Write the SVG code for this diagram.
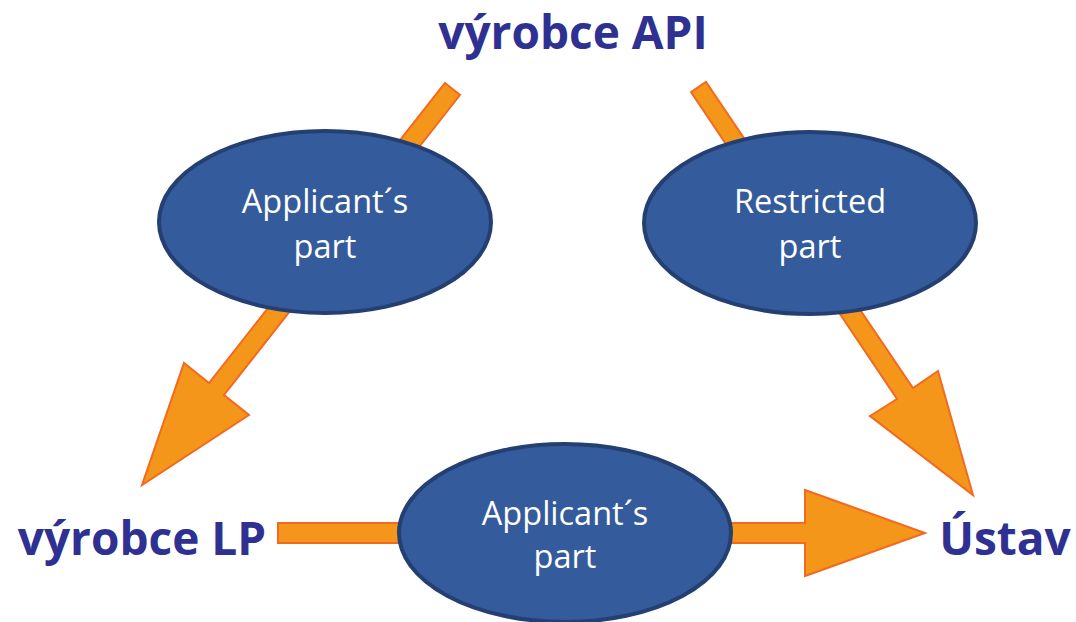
<svg xmlns="http://www.w3.org/2000/svg" width="1076" height="622" viewBox="0 0 1076 622">
<style>
.arrow{fill:#F39619;stroke:#F26A21;stroke-width:2;stroke-linejoin:miter}
.oval{fill:#345B9B;stroke:#243F72;stroke-width:4}
.olbl{font-family:"Open Sans","Noto Sans",sans-serif;font-size:32.5px;fill:#FFFFFF;text-anchor:middle}
.ttl{font-family:"Open Sans","Noto Sans",sans-serif;font-weight:bold;font-size:46px;fill:#2E3192}
</style>
<rect width="1076" height="622" fill="#FFFFFF"/>
<g id="connectors">
<polygon class="arrow" points="445,83 460,95 224,395 249,415 142,485 184,363 209,383"/>
<polygon class="arrow" points="691,92 706,82 913,388 938,371 973,495 870,416 897,399"/>
<polygon class="arrow" points="278,523 805,523 805,490 925,533 805,576 805,543 278,543"/>
</g>
<g id="node-api"><text class="ttl" x="573" y="49" text-anchor="middle">výrobce API</text></g>
<g id="node-lp"><text class="ttl" x="142" y="555" text-anchor="middle">výrobce LP</text></g>
<g id="node-ustav"><text class="ttl" x="1005" y="555" text-anchor="middle">Ústav</text></g>
<g id="oval-left">
<ellipse class="oval" cx="325" cy="222" rx="166" ry="91"/>
<text class="olbl" x="325" y="213">Applicant´s</text>
<text class="olbl" x="325" y="258">part</text>
</g>
<g id="oval-right">
<ellipse class="oval" cx="810" cy="223" rx="166" ry="91"/>
<text class="olbl" x="810" y="213">Restricted</text>
<text class="olbl" x="810" y="258">part</text>
</g>
<g id="oval-bottom">
<ellipse class="oval" cx="565" cy="533" rx="166" ry="89"/>
<text class="olbl" x="565" y="525">Applicant´s</text>
<text class="olbl" x="565" y="568">part</text>
</g>
</svg>
